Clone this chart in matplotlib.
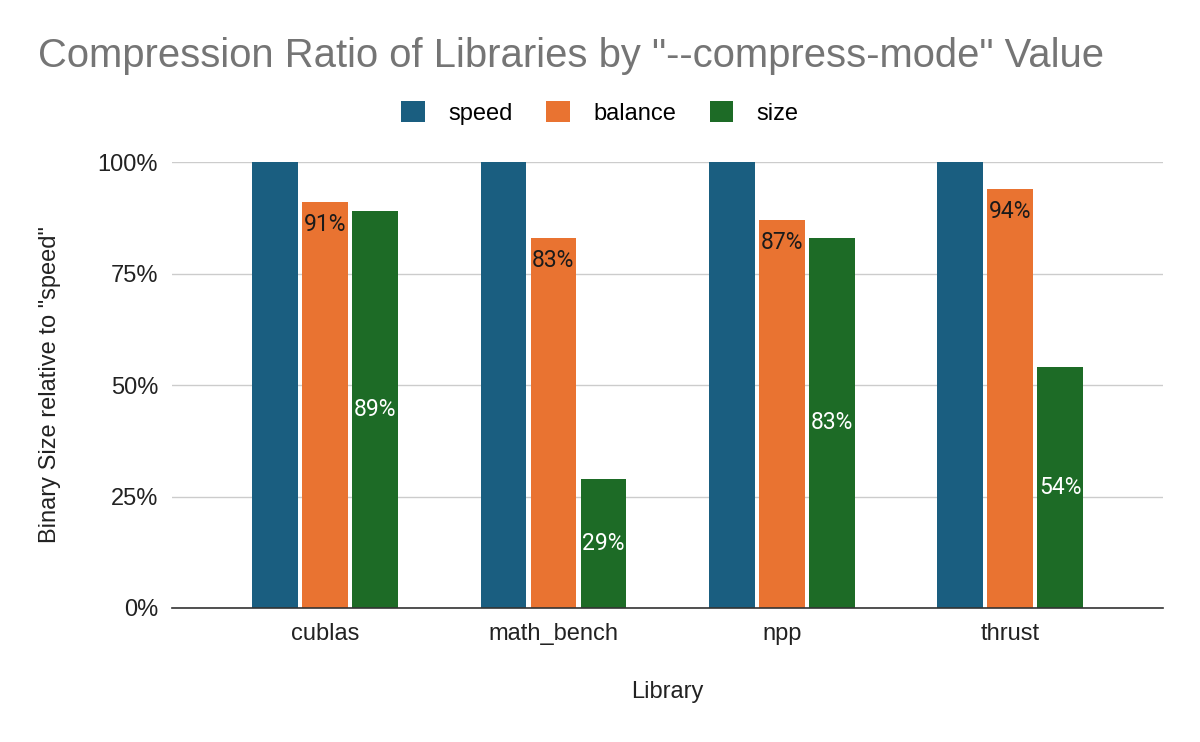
import numpy as np
import matplotlib.pyplot as plt

libraries = ['cublas', 'math_bench', 'npp', 'thrust']
speed = [100, 100, 100, 100]
balance = [91, 83, 87, 94]
size = [89, 29, 83, 54]
yticks = [0, 25, 50, 75, 100]

colors = {'speed': '#1a5e80', 'balance': '#e97331', 'size': '#1d6b26'}

plt.rcParams['font.family'] = ['Liberation Sans', 'DejaVu Sans']

fig = plt.figure(figsize=(12, 7.42), dpi=100)
ax = fig.add_axes([0.1433, 0.1806, 0.826, 0.601])

x = np.arange(len(libraries))
w = 0.2
off = 0.219
b1 = ax.bar(x - off, speed, w, color=colors['speed'], label='speed', zorder=3)
b2 = ax.bar(x, balance, w, color=colors['balance'], label='balance', zorder=3)
b3 = ax.bar(x + off, size, w, color=colors['size'], label='size', zorder=3)

# data labels (Roboto like the original)
for rect, v in zip(b2, balance):
    ax.text(rect.get_x() + rect.get_width() / 2, v - 5, f'{v}%',
            ha='center', va='center', fontsize=16.5, color='#1a1a1a', zorder=4,
            family=['Roboto', 'DejaVu Sans'])
for rect, v in zip(b3, size):
    ax.text(rect.get_x() + rect.get_width() / 2, v / 2, f'{v}%',
            ha='center', va='center', fontsize=16.5, color='white', zorder=4,
            family=['Roboto', 'DejaVu Sans'])

ax.set_xlim(-0.67, 3.67)
ax.set_ylim(0, 100)
ax.set_yticks(yticks)
ax.set_yticklabels([f'{t}%' for t in yticks])
ax.set_xticks(x)
ax.set_xticklabels(libraries)
ax.tick_params(axis='both', length=0, labelsize=17, colors='#222222')
ax.tick_params(axis='y', pad=10)
ax.tick_params(axis='x', pad=11)
ax.grid(axis='y', color='#cccccc', linewidth=1, zorder=0)
for s in ['top', 'right', 'left']:
    ax.spines[s].set_visible(False)
ax.spines['bottom'].set_color('#333333')
ax.spines['bottom'].set_linewidth(1.2)
ax.spines['bottom'].set_zorder(5)

ax.set_xlabel('Library', fontsize=17, color='#222222', labelpad=26)
ax.set_ylabel('Binary Size relative to "speed"', fontsize=17, color='#222222', labelpad=26)

fig.text(0.032, 0.925, 'Compression Ratio of Libraries by "--compress-mode" Value',
         fontsize=28.8, color='#757575', ha='left', va='center')

fig.legend(loc='center', bbox_to_anchor=(0.5, 0.848), ncol=3, frameon=False,
           fontsize=17, handlelength=1.0, handleheight=1.0, columnspacing=1.43,
           handletextpad=0.98)

fig.savefig('out.png', dpi=100)
